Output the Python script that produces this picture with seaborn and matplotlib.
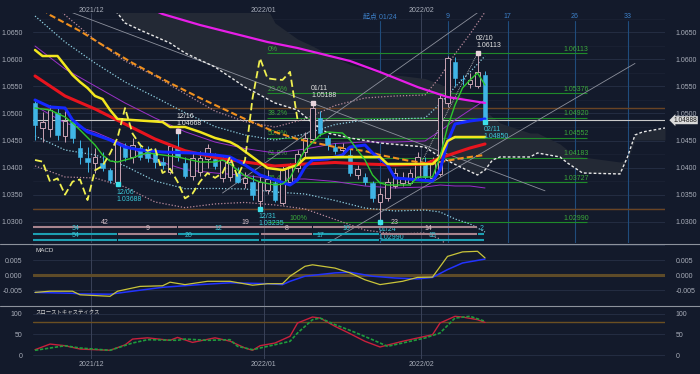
import numpy as np
import pandas as pd
import matplotlib
matplotlib.use("Agg")
import matplotlib.pyplot as plt
import matplotlib.transforms as mtransforms
from matplotlib.lines import Line2D
import seaborn as sns

# ----------------------------------------------------------------- data
# daily candles: bar 0 = 2021/11/19 ... bar 60 = 2022/02/11
opens = [1.0519, 1.0474, 1.0472, 1.0500, 1.0459, 1.0484, 1.0436, 1.0417, 1.0409, 1.0409,
         1.0395, 1.0374, 1.0440, 1.0420, 1.0437, 1.0430, 1.0427, 1.0411, 1.0392, 1.0436,
         1.0408, 1.0384, 1.0392, 1.0415, 1.0416, 1.0380, 1.0383, 1.0390, 1.0371, 1.0374,
         1.0339, 1.0359, 1.0372, 1.0335, 1.0373, 1.0399, 1.0428, 1.0453, 1.0491, 1.0455,
         1.0438, 1.0432, 1.0424, 1.0387, 1.0383, 1.0371, 1.0337, 1.0343, 1.0366, 1.0372,
         1.0372, 1.0383, 1.0411, 1.0381, 1.0389, 1.0519, 1.0596, 1.0564, 1.0554, 1.0551,
         1.0571]
highs = [1.0524, 1.0503, 1.0516, 1.0510, 1.0505, 1.0490, 1.0451, 1.0438, 1.0436, 1.0429,
         1.0399, 1.0448, 1.0445, 1.0455, 1.0446, 1.0440, 1.0436, 1.0420, 1.0442, 1.04668,
         1.0420, 1.0428, 1.0430, 1.0444, 1.0427, 1.0422, 1.0420, 1.0401, 1.0392, 1.0386,
         1.0383, 1.0395, 1.0378, 1.0403, 1.0409, 1.0433, 1.0465, 1.05188, 1.0505, 1.0460,
         1.0445, 1.0446, 1.0440, 1.0405, 1.0390, 1.0376, 1.0362, 1.0380, 1.0399, 1.0392,
         1.0398, 1.0428, 1.0420, 1.0420, 1.0535, 1.0606, 1.0605, 1.0571, 1.0574, 1.06113,
         1.0578]
lows = [1.0451, 1.0448, 1.0457, 1.0451, 1.0447, 1.0445, 1.0407, 1.0391, 1.0390, 1.0393,
        1.0372, 1.03688, 1.0412, 1.0408, 1.0414, 1.0411, 1.0400, 1.0398, 1.0388, 1.0413,
        1.0380, 1.0377, 1.0385, 1.0400, 1.0397, 1.0374, 1.0375, 1.0371, 1.0362, 1.0340,
        1.03235, 1.0352, 1.0337, 1.0330, 1.0367, 1.0392, 1.0420, 1.0448, 1.0458, 1.0432,
        1.0425, 1.0426, 1.0385, 1.0378, 1.0368, 1.0336, 1.02990, 1.0338, 1.0362, 1.0366,
        1.0368, 1.0378, 1.0378, 1.0375, 1.0385, 1.0512, 1.0550, 1.0553, 1.0547, 1.0547,
        1.04850]
closes = [1.0479, 1.0485, 1.0506, 1.0460, 1.0487, 1.0454, 1.0419, 1.0411, 1.0420, 1.0400,
          1.0377, 1.0445, 1.0420, 1.0441, 1.0420, 1.0418, 1.0410, 1.0404, 1.0439, 1.0420,
          1.0384, 1.0418, 1.0417, 1.0436, 1.0403, 1.0414, 1.0411, 1.0374, 1.0380, 1.0350,
          1.0374, 1.0378, 1.0340, 1.0395, 1.0403, 1.0426, 1.0455, 1.0510, 1.0463, 1.0442,
          1.0431, 1.0436, 1.0390, 1.0398, 1.0374, 1.0343, 1.0352, 1.0374, 1.0390, 1.0381,
          1.0390, 1.0420, 1.0383, 1.0414, 1.0528, 1.0602, 1.0565, 1.0563, 1.0562, 1.0577,
          1.04888]
CHIKOU_SHIFT = 25

# 21-day MA (red) with Bollinger sigma at the same bars
band_idx = [0, 4, 8, 12, 16, 20, 24, 28, 32, 36, 40, 44, 48, 52, 54, 56, 58, 60]
ma_red = [1.05693, 1.05323, 1.05083, 1.04806, 1.04528, 1.04312, 1.04186, 1.04103, 1.04029,
          1.04066, 1.04094, 1.04066, 1.04048, 1.04066, 1.04177, 1.04270, 1.04362, 1.04436]
bb_sigma = [0.00554, 0.00499, 0.00425, 0.00388, 0.00388, 0.00351, 0.00286, 0.00249, 0.00240,
            0.00277, 0.00351, 0.00407, 0.00425, 0.00425, 0.00499, 0.00610, 0.00702, 0.00813]

blue_idx = [0, 2, 4, 5, 7, 10, 12, 14, 17, 21, 24, 26, 28, 30, 32, 34, 35, 36, 37, 39, 41, 42,
            44, 45, 47, 48, 53, 54, 55, 56, 58, 60]
ma_blue = [1.05249, 1.05120, 1.05101, 1.04879, 1.04658, 1.04510, 1.04380, 1.04325, 1.04288,
           1.04270, 1.04233, 1.04196, 1.04048, 1.03863, 1.03771, 1.03678, 1.03771, 1.04011,
           1.04140, 1.04159, 1.04233, 1.04380, 1.04417, 1.04270, 1.04048, 1.03808, 1.03752,
           1.03955, 1.04473, 1.04806, 1.04861, 1.04898]

kijun_idx = [0, 1, 3, 5, 6, 7, 8, 9, 10, 11, 13, 17, 18, 20, 22, 24, 26, 27, 29, 31, 33, 35,
             36, 41, 46, 47, 53, 54, 55, 56, 60]
kijun = [1.06173, 1.06062, 1.06062, 1.05711, 1.05582, 1.05471, 1.05323, 1.05267, 1.05064,
         1.04898, 1.04879, 1.04842, 1.04750, 1.04750, 1.04658, 1.04547, 1.04473, 1.04399,
         1.04196, 1.03992, 1.03955, 1.04048, 1.04177, 1.04196, 1.04196, 1.04066, 1.04066,
         1.04196, 1.04491, 1.04565, 1.04565]

tenkan_idx = [0, 2, 4, 5, 6, 8, 9, 10, 11, 13, 14, 15, 17, 19, 22, 24, 25, 26, 28, 30, 32,
              33, 34, 35, 36, 38, 39, 41, 42, 44, 45, 46, 47, 50, 51, 53, 54, 55, 56, 57, 58,
              59, 60]
tenkan = [1.05101, 1.05064, 1.04935, 1.04824, 1.04695, 1.04417, 1.04233, 1.04122, 1.04103,
          1.04177, 1.04233, 1.04270, 1.04233, 1.04196, 1.04103, 1.04103, 1.04140, 1.04066,
          1.03845, 1.03734, 1.03678, 1.03697, 1.03808, 1.04085, 1.04325, 1.04602, 1.04658,
          1.04639, 1.04510, 1.04140, 1.03863, 1.03715, 1.03678, 1.03678, 1.03826, 1.03826,
          1.04196, 1.04750, 1.05157, 1.05471, 1.05619, 1.05748, 1.05526]

magenta_idx = [15, 17, 22, 31, 35, 42, 46, 51, 55, 60]
ma_magenta = [1.06968, 1.06838, 1.06635, 1.06321, 1.06210, 1.05970, 1.05766, 1.05489,
              1.05304, 1.05194]

orange_idx = [1, 2, 6, 9, 13, 18, 22, 26, 28, 32, 35, 40, 44, 46, 50, 53, 54, 57, 60]
ma_orange = [1.06931, 1.06820, 1.06524, 1.06265, 1.05933, 1.05563, 1.05286, 1.05027,
             1.04898, 1.04658, 1.04528, 1.04380, 1.04306, 1.04233, 1.04122, 1.04066,
             1.04103, 1.04177, 1.04233]

# ichimoku cloud (leading spans, drawn 25 bars ahead)
span_idx = [9, 11, 12, 14, 18, 20, 22, 24, 26, 28, 30, 32, 35, 37, 39, 42, 46, 52, 54, 57,
            59, 60, 61, 62, 66, 67, 70, 71, 73, 78, 79, 80, 81, 84]
span_white = [1.07005, 1.06857, 1.06672, 1.06543, 1.06302, 1.06118, 1.05988, 1.05859,
              1.05674, 1.05489, 1.05341, 1.05194, 1.05064, 1.04824, 1.04639, 1.04547,
              1.04454, 1.04380, 1.04196, 1.03992, 1.03863, 1.03955, 1.04140, 1.04196,
              1.04196, 1.04270, 1.04196, 1.04085, 1.03900, 1.03882, 1.04196, 1.04602,
              1.04658, 1.04732]
span_other = [1.07467, 1.07467, 1.07467, 1.07467, 1.07467, 1.07467, 1.07467, 1.07467,
              1.07467, 1.07374, 1.07189, 1.06672, 1.06376, 1.06247, 1.06099, 1.05905,
              1.05748, 1.05646, 1.05545, 1.05304, 1.05138, 1.05046, 1.04935, 1.04824,
              1.04639, 1.04639, 1.04436, 1.04325, 1.04196, 1.04103, 1.04140, 1.04510,
              1.04510, 1.04510]

# trend lines (two end points each)
trend_idx = [[5, 68], [25, 59], [39, 80], [51, 59]]
trend_val = [[1.06862, 1.03571], [1.03530, 1.06862], [1.02601, 1.05925], [1.03955, 1.06113]]

# fibonacci retracement
fib_pct = ["0%", "23.6%", "38.2%", "50.0%", "61.8%", "76.4%", "100%"]
fib_levels = [1.06113, 1.05376, 1.04920, 1.04552, 1.04183, 1.03727, 1.02990]
fib_label_x = [31.0, 31.0, 31.0, 31.0, 31.0, 31.0, 33.9]
fib_span = [30.9, 73.6]
brown_levels = [1.05107, 1.03235]

# swing annotations
ann_idx = [11, 19, 30, 37, 46, 59, 60]
ann_date = ["12/06", "12/16", "12/31", "01/11", "01/24", "02/10", "02/11"]
ann_price = [1.03688, 1.04668, 1.03235, 1.05188, 1.02990, 1.06113, 1.04850]
ann_kind = ["low", "high", "low", "high", "low", "high", "low"]

# wave-count strip (start bar, end bar, label, colour key)
strip_row1 = [(-0.4, 19, "42", "p"), (19, 37, "19", "p"), (37, 59, "23", "p")]
strip_row2 = [(-0.4, 11, "34", "t"), (11, 19, "9", "p"), (19, 30, "12", "t"), (30, 37, "8", "p"),
              (37, 46, "10", "t"), (46, 59, "14", "p"), (59, 60, "2", "t")]
strip_row3 = [(-0.4, 11, "54", "t"), (11, 30, "20", "t"), (30, 46, "17", "t"), (46, 60, "15", "t")]

month_idx = [7.5, 30.5, 51.5]
month_labels = ["2021/12", "2022/01", "2022/02"]
time_idx = [46, 55, 63, 72, 79]
time_labels = ["起点 01/24", "9", "17", "26", "33"]

price_ticks = [1.0300, 1.0350, 1.0400, 1.0450, 1.0500, 1.0550, 1.0600, 1.0650]

# MACD
macd_idx = [0, 2, 5, 6, 10, 11, 14, 17, 18, 20, 23, 26, 29, 31, 33, 34, 36, 37, 40, 42, 44, 46,
            49, 51, 53, 55, 57, 59, 60]
macd_val = [-0.0057, -0.0053, -0.0053, -0.0065, -0.0070, -0.0053, -0.0037, -0.0035, -0.0023,
            -0.0031, -0.0020, -0.0020, -0.0033, -0.0028, -0.0028, -0.0003, 0.0030, 0.0035,
            0.0024, 0.0008, -0.0015, -0.0031, -0.0020, -0.0007, -0.0006, 0.0063, 0.0078,
            0.0080, 0.0058]
signal_idx = [0, 5, 6, 10, 13, 17, 22, 26, 31, 33, 34, 36, 40, 42, 45, 48, 51, 53, 55, 57, 60]
signal_val = [-0.0057, -0.0060, -0.0062, -0.0063, -0.0053, -0.0040, -0.0031, -0.0025, -0.0028,
              -0.0031, -0.0020, -0.0003, 0.0008, 0.0010, -0.0003, -0.0009, -0.0012, -0.0007,
              0.0019, 0.0041, 0.0054]

# slow stochastics
k_idx = [0, 2, 4, 6, 10, 12, 13, 15, 18, 19, 21, 24, 26, 28, 29, 30, 32, 34, 35, 37, 38, 40,
         42, 44, 46, 49, 51, 53, 54, 56, 57, 59, 60]
k_val = [13.5, 27, 23, 15, 12, 25, 39, 42, 36, 43, 31, 42, 34, 17.5, 12, 23, 29.5, 45.7, 77.6,
         92, 89.6, 69.7, 52, 33.6, 20, 33.6, 41.6, 49.5, 77.6, 93.7, 92, 85.6, 79]
d_idx = [0, 4, 6, 10, 13, 15, 19, 20, 23, 26, 27, 29, 32, 34, 35, 37, 38, 40, 42, 45, 47, 49,
         52, 54, 56, 58, 60]
d_val = [12, 23, 17.5, 12, 29.5, 37.5, 36, 39, 36, 37.5, 21.6, 13.5, 25.5, 33.6, 53.6, 85.6,
         89.6, 73.6, 60, 37.5, 21.6, 29.5, 41.6, 53.6, 89.6, 93.7, 81.7]

# ----------------------------------------------------------------- style
BG = "#131a2b"
GRID = "#273046"
GRID2 = "#1c2336"
TXT = "#a9aeba"
UP_EDGE = "#c9a4b4"
DN_FILL = "#40b5e6"
CYAN_T = "#3cc8d8"
PINK_S = "#a8848e"
TEAL_S = "#1d9fb2"
CLOUD = "#232935"

sns.set_theme(style="dark", rc={
    "figure.facecolor": BG, "axes.facecolor": BG, "savefig.facecolor": BG,
    "axes.edgecolor": BG, "text.color": TXT, "xtick.color": TXT, "ytick.color": TXT,
    "axes.grid": False,
})
plt.rcParams["font.family"] = ["Liberation Sans", "Noto Sans CJK JP", "DejaVu Sans"]
plt.rcParams["axes.unicode_minus"] = False

XMIN, XMAX = -0.27, 84.0
fig = plt.figure(figsize=(7.0, 3.74), dpi=100)
L, W = 33 / 700, 632 / 700
ax = fig.add_axes([L, 1 - 243 / 374, W, 230 / 374])
axm = fig.add_axes([L, 1 - 306 / 374, W, 62 / 374])
axs = fig.add_axes([L, 1 - 359 / 374, W, 52 / 374])


def line(a, x, y, **kw):
    sns.lineplot(x=np.asarray(x, float), y=np.asarray(y, float), ax=a, legend=False, **kw)


# ----------------------------------------------------------------- main panel
for p in price_ticks:
    ax.axhline(p, color=GRID, lw=0.6, zorder=0.5)
    ax.axhline(p + 0.0025, color=GRID2, lw=0.5, zorder=0.5)
for m in month_idx:
    ax.axvline(m, color="#3a4258", lw=0.7, zorder=0.8)
for t in time_idx:
    ax.axvline(t, ymin=0, ymax=0.965, color="#1f4c7c", lw=0.8, zorder=0.8)

ax.fill_between(span_idx, span_other, span_white, color=CLOUD, lw=0, zorder=1)

for b in brown_levels:
    ax.axhline(b, color="#6a4424", lw=1.0, zorder=1.5)
ax.axhline(closes[-1], color="#c8c8c8", lw=0.8, zorder=2)

ax.hlines(fib_levels, fib_span[0], fib_span[1], color="#1f8a2a", lw=0.8, zorder=2)
for lab, lev, lx in zip(fib_pct, fib_levels, fib_label_x):
    ax.text(lx, lev + 0.0001, lab, color="#3aa83a", fontsize=5,
            ha="left", va="bottom", zorder=2.5)
    ax.text(70.4, lev + 0.0001, f"{lev:.5f}", color="#3aa83a", fontsize=5,
            ha="left", va="bottom", zorder=2.5)

mid = np.array(ma_red)
sig = np.array(bb_sigma)
line(ax, band_idx, mid + sig, color="#9a30c8", lw=0.7, zorder=3)
line(ax, band_idx, mid - sig, color="#9a30c8", lw=0.7, zorder=3)
line(ax, band_idx, mid + 2 * sig, color="#8fd0e2", lw=0.9, linestyle=(0, (1, 1.5)), zorder=3)
line(ax, band_idx, mid - 2 * sig, color="#8fd0e2", lw=0.9, linestyle=(0, (1, 1.5)), zorder=3)
line(ax, band_idx, mid + 3 * sig, color="#b98a9c", lw=0.9, linestyle=(0, (1, 1.5)), zorder=3)
line(ax, band_idx, mid - 3 * sig, color="#b98a9c", lw=0.9, linestyle=(0, (1, 1.5)), zorder=3)

for k, (tx, tv) in enumerate(zip(trend_idx, trend_val)):
    if k < 3:
        line(ax, tx, tv, color="#8c909c", lw=0.6, zorder=3)
    else:
        line(ax, tx, tv, color="#d0d0d0", lw=0.6, linestyle=(0, (1, 1.2)), zorder=3)

line(ax, span_idx, span_white, color="#e8e8e8", lw=1.0, linestyle=(0, (2, 1.5)), zorder=3)

# candles
o = np.array(opens); h = np.array(highs); lo = np.array(lows); c = np.array(closes)
bars = np.arange(len(c))
up = c >= o
ax.vlines(bars[up], lo[up], h[up], color=UP_EDGE, lw=0.7, zorder=4)
ax.vlines(bars[~up], lo[~up], h[~up], color=DN_FILL, lw=0.7, zorder=4)
body = np.maximum(np.abs(c - o), 0.00008)
ax.bar(bars[up], body[up], bottom=o[up], width=0.66, facecolor=BG, edgecolor=UP_EDGE,
       lw=0.7, zorder=4.5)
ax.bar(bars[~up], body[~up], bottom=c[~up], width=0.66, facecolor=DN_FILL,
       edgecolor=DN_FILL, lw=0.4, zorder=4.5)

# moving averages / ichimoku lines
line(ax, orange_idx, ma_orange, color="#f0901e", lw=1.5, linestyle=(0, (3, 1.5)), zorder=5)
line(ax, magenta_idx, ma_magenta, color="#e81ee8", lw=1.6, zorder=5)
line(ax, band_idx, ma_red, color="#e8141e", lw=2.2, zorder=5.5)
line(ax, blue_idx, ma_blue, color="#1428ff", lw=2.2, zorder=5.6)
line(ax, kijun_idx, kijun, color="#f2e61e", lw=1.8, zorder=5.7)
line(ax, tenkan_idx, tenkan, color="#2ec82e", lw=1.0, zorder=5.8)
chik_x = np.arange(len(c) - CHIKOU_SHIFT)
line(ax, chik_x, c[CHIKOU_SHIFT:], color="#f0f050", lw=1.3, linestyle=(0, (4, 2)), zorder=5.9)

# swing annotations
for i, d, p, kd in zip(ann_idx, ann_date, ann_price, ann_kind):
    col = CYAN_T if kd == "low" else "#e4e4e4"
    mcol = "#3ce0ea" if kd == "low" else "#e8d4dc"
    ax.plot([i], [p], marker="s", ms=2.4, color=mcol, zorder=8)
    off = (-1, -3) if kd == "low" else (-1, 3)
    ax.annotate(f"{d}\n{p:.5f}", (i, p), xytext=off, textcoords="offset points",
                ha="left", va="top" if kd == "low" else "bottom", fontsize=5,
                color=col, linespacing=1.05, zorder=8)

# wave-count strip
trans = mtransforms.blended_transform_factory(ax.transData, ax.transAxes)
for row, ybar in ((strip_row1, 0.0696), (strip_row2, 0.0413), (strip_row3, 0.0130)):
    for x0, x1, lab, ck in row:
        bc = PINK_S if ck == "p" else TEAL_S
        tc = "#d8c2ca" if ck == "p" else "#3cc4d4"
        ax.plot([x0 + 0.12, x1 - 0.12], [ybar, ybar], transform=trans, color=bc, lw=1.5,
                solid_capstyle="butt", zorder=8)
        ax.text((max(x0, -0.27) + x1) / 2, ybar + 0.006, lab, transform=trans, color=tc,
                fontsize=5, ha="center", va="bottom", zorder=8)

# top labels
for m, lab in zip(month_idx, month_labels):
    ax.text(m, 1.013, lab, transform=trans, color=TXT, fontsize=5, ha="center", va="center")
for t, lab in zip(time_idx, time_labels):
    ax.text(t, 0.983, lab, transform=trans, color="#3d80c8", fontsize=5, ha="center",
            va="center", zorder=8)

# price tag
ptrans = mtransforms.blended_transform_factory(ax.transAxes, ax.transData)
ax.text(1.0135, closes[-1] - 0.00012, f"{closes[-1]:.5f}", transform=ptrans, ha="left",
        va="center", fontsize=4.8, color="#1a1a1a", zorder=10, clip_on=False,
        bbox=dict(boxstyle="larrow,pad=0.08", fc="#dadada", ec="none"))

ax.set_ylim(1.02606, 1.06857)
ax.set_yticks(price_ticks)
ax.set_yticklabels([f"{p:.4f}" for p in price_ticks])

# ----------------------------------------------------------------- MACD
for g in (-0.005, 0.005, 0.010):
    axm.axhline(g, color=GRID, lw=0.6, zorder=0.5)
axm.axhline(0, color="#5e4b28", lw=2.2, zorder=1)
for m in month_idx:
    axm.axvline(m, color="#3a4258", lw=0.7, zorder=0.8)
line(axm, signal_idx, signal_val, color="#2233ff", lw=1.1, zorder=3)
line(axm, macd_idx, macd_val, color="#c9c43a", lw=0.9, zorder=4)
axm.text(0.004, 0.9, "MACD", transform=axm.transAxes, color="#d8d8d8", fontsize=4.5,
         ha="left", va="center")
axm.set_ylim(-0.01023, 0.01043)
axm.set_yticks([-0.005, 0.0, 0.005])
axm.set_yticklabels(["-0.005", "0.000", "0.005"])

# ----------------------------------------------------------------- stochastics
for g in (0, 50, 100):
    axs.axhline(g, color=GRID, lw=0.6, zorder=0.5)
axs.axhline(80, color="#6a4f22", lw=1.0, zorder=1)
for m in month_idx:
    axs.axvline(m, color="#3a4258", lw=0.7, zorder=0.8)
line(axs, k_idx, k_val, color="#c8203c", lw=1.0, zorder=3)
line(axs, d_idx, d_val, color="#1f9c3c", lw=1.2, linestyle=(0, (2, 1)), zorder=4)
axs.text(0.004, 0.885, "スローストキャスティクス", transform=axs.transAxes, color="#d0d0d0",
         fontsize=3.9, ha="left", va="center", family=["Noto Sans CJK JP", "DejaVu Sans"])
strans = mtransforms.blended_transform_factory(axs.transData, axs.transAxes)
for m, lab in zip(month_idx, month_labels):
    axs.text(m, -0.115, lab, transform=strans, color=TXT, fontsize=5, ha="center", va="center")
axs.set_ylim(-8.9, 116.1)
axs.set_yticks([0, 50, 100])
axs.set_yticklabels(["0", "50", "100"])

# ----------------------------------------------------------------- common axis styling
for a in (ax, axm, axs):
    a.set_xlim(XMIN, XMAX)
    a.set_xlabel("")
    a.set_ylabel("")
    a.set_xticks([])
    for s in a.spines.values():
        s.set_visible(False)
    a.tick_params(axis="y", left=False, right=False, labelleft=True, labelright=True,
                  labelsize=5, labelcolor=TXT, pad=1.5)

for yy in (1 - 244 / 374, 1 - 306 / 374):
    fig.add_artist(Line2D([0, 1], [yy, yy], transform=fig.transFigure, color="#8d929c", lw=0.8))

fig.savefig("out.png", dpi=100, facecolor=BG)
